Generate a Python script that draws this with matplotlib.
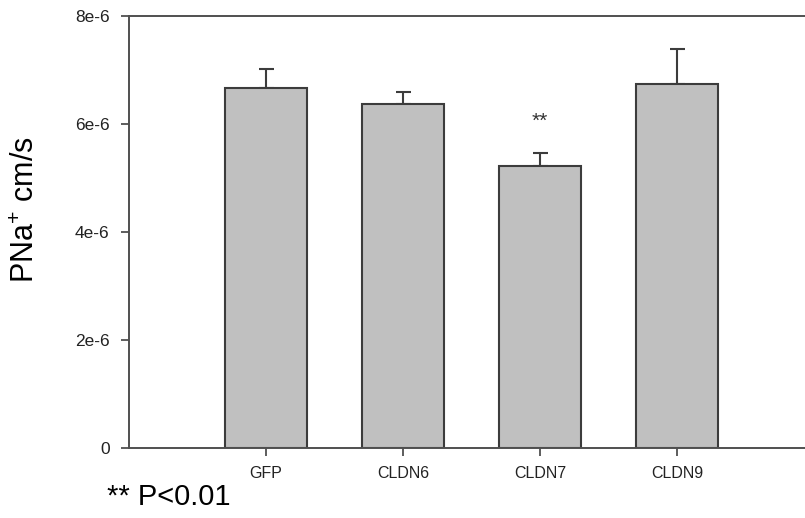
import matplotlib
matplotlib.use("Agg")
import matplotlib.pyplot as plt

# datos
grupos = ["GFP", "CLDN6", "CLDN7", "CLDN9"]
pna = [6.66e-6, 6.37e-6, 5.23e-6, 6.74e-6]
err = [0.35e-6, 0.22e-6, 0.23e-6, 0.64e-6]
yticks = [0, 2e-6, 4e-6, 6e-6, 8e-6]
ytick_labels = ["0", "2e-6", "4e-6", "6e-6", "8e-6"]

plt.rcParams['font.family'] = ['Liberation Sans', 'DejaVu Sans']
plt.rcParams['mathtext.fontset'] = 'custom'
plt.rcParams['mathtext.rm'] = 'Liberation Sans'
plt.rcParams['mathtext.it'] = 'Liberation Sans'

fig = plt.figure(figsize=(8.05, 5.18), dpi=100)
# el eje sigue mas alla del borde derecho, como en la figura original
ax = fig.add_axes([129/805, 70/518, 700/805, 432/518])

pos = [1, 2, 3, 4]
edge = "#3c3c3c"
ax.bar(pos, pna, width=0.6, color="#c0c0c0", edgecolor=edge, linewidth=1.5, zorder=2)
ax.errorbar(pos, pna, yerr=[[0]*4, err], fmt="none", ecolor=edge,
            elinewidth=1.5, capsize=5.4, capthick=1.5, zorder=1)

# significancia sobre CLDN7
ax.text(3, 6.05e-6, "**", ha="center", va="center", fontsize=15, color="#333333")

ax.set_xlim(0, 700/137)
ax.set_ylim(0, 8e-6)
ax.set_xticks(pos)
ax.set_xticklabels(grupos, fontsize=11.5, color="#222222")
ax.set_yticks(yticks)
ax.set_yticklabels(ytick_labels, fontsize=12.5, color="#222222")

for s in ["left", "top", "bottom"]:
    ax.spines[s].set_color("#505050")
    ax.spines[s].set_linewidth(1.4)
ax.spines["right"].set_visible(False)
ax.tick_params(axis="both", direction="out", length=6, width=1.3, color="#505050")
ax.tick_params(axis="y", pad=8)
ax.tick_params(axis="x", pad=7)

fig.text(26/805, 1 - 210/518, "PNa$^{+}$ cm/s", rotation=90, ha="center", va="center",
         fontsize=22)
fig.text(107/805, 1 - 505/518, "** P<0.01", ha="left", va="baseline", fontsize=21)

fig.savefig("out.png", dpi=100)
